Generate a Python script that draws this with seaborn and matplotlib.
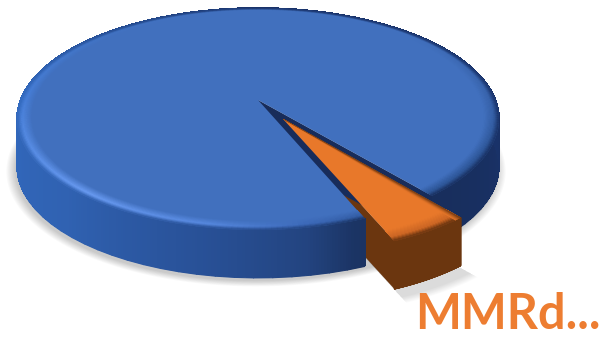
import numpy as np
import matplotlib
matplotlib.use("Agg")
import matplotlib.pyplot as plt
from matplotlib.collections import PolyCollection
from matplotlib.transforms import Transform
import seaborn as sns

# Slice data
slice_names = ["Other", "MMRd"]
slice_values = [95.2, 4.8]
slice_explode = [0, 0.2]
label_text = "MMRd..."

sns.set_theme(style="white")
palette = sns.color_palette(["#4170BE", "#E8782A"])
LABEL_COLOR = "#ED7D31"

# Camera for the tilted disc, in pixel units
CX, CY = 258.0, 100.0
AX_X, AX_Y = 237.4, 107.7
PERSP = 0.171
DEPTH = 48.0


def project(u, v, z=0.0):
    u, v = np.asarray(u, float), np.asarray(v, float)
    w = 1 + PERSP * v
    return CX + AX_X * u / w, CY - AX_Y * v / w + z


class DiscTransform(Transform):
    input_dims = output_dims = 2
    is_separable = False
    has_inverse = False

    def transform_non_affine(self, values):
        x, y = project(values[:, 0], values[:, 1])
        return np.column_stack([x, y])


def shade(table, angles):
    a = ((np.asarray(angles) + 180) % 360) - 180
    keys = np.array(sorted(table))
    rgb = np.array([table[k] for k in keys], float) / 255
    return np.column_stack([np.interp(a, keys, rgb[:, i]) for i in range(3)])


SIDE_BLUE = {-180: (50, 105, 190), -135: (48, 98, 178), -100: (40, 80, 150),
             -80: (35, 68, 128), -70: (27, 52, 100), -50: (24, 46, 92),
             0: (25, 50, 105), 90: (25, 50, 105), 180: (50, 105, 190)}
GLOW_BLUE = {-180: (72, 128, 218), -130: (108, 158, 245), -100: (88, 138, 225),
             -80: (60, 105, 185), -60: (45, 85, 150), -30: (45, 85, 150),
             0: (55, 98, 170), 45: (65, 112, 190), 90: (65, 112, 190),
             135: (65, 115, 195), 180: (72, 128, 218)}


def rim_quads(wedge, z0, z1, table=None, color=None, n=600, smooth_edge=False):
    """Outer wall of a wedge as a strip of quads."""
    t = np.linspace(wedge.theta1, wedge.theta2, n)
    cx, cy = wedge.center
    x, y = cx + wedge.r * np.cos(np.radians(t)), cy + wedge.r * np.sin(np.radians(t))
    xa, ya = project(x, y, z0)
    xb, yb = project(x, y, z1)
    polys = [[(xa[i], ya[i]), (xa[i + 1], ya[i + 1]), (xb[i + 1], yb[i + 1]), (xb[i], yb[i])]
             for i in range(n - 1)]
    tm = (t[:-1] + t[1:]) / 2
    cols = shade(table, tm) if table else np.tile(color, (n - 1, 1))
    if smooth_edge:
        return PolyCollection(polys, facecolors=cols, edgecolors=cols, linewidths=0.8)
    return PolyCollection(polys, facecolors=cols, edgecolors=cols, linewidths=0.6,
                          antialiaseds=False)


def bevel_quads(wedge, top, glow_at, outer_at, width=0.05, rings=12, n=300):
    """Rounded edge of the top face: top colour, highlight, then wall colour."""
    t = np.linspace(wedge.theta1, wedge.theta2, n)
    tm = (t[:-1] + t[1:]) / 2
    glow, outer = glow_at(tm), outer_at(tm)
    cx, cy = wedge.center
    polys, cols = [], []
    fr = np.linspace(0, 1, rings + 1)
    for j in range(rings):
        r0, r1 = wedge.r * (1 - width * (1 - fr[j])), wedge.r * (1 - width * (1 - fr[j + 1]))
        f = (fr[j] + fr[j + 1]) / 2
        xa, ya = project(cx + r0 * np.cos(np.radians(t)), cy + r0 * np.sin(np.radians(t)))
        xb, yb = project(cx + r1 * np.cos(np.radians(t)), cy + r1 * np.sin(np.radians(t)))
        if f < 0.65:
            c = np.array(top) + (glow - np.array(top)) * (f / 0.65)
        else:
            c = glow + (outer - glow) * ((f - 0.65) / 0.35)
        for i in range(n - 1):
            polys.append([(xa[i], ya[i]), (xa[i + 1], ya[i + 1]), (xb[i + 1], yb[i + 1]), (xb[i], yb[i])])
            cols.append(c[i])
    return PolyCollection(polys, facecolors=cols, edgecolors=cols, linewidths=0.3)


def edge_bevel(wedge, angle, side, top, dark, width=0.028, rings=8):
    """Darkening strip along one straight edge of a wedge."""
    cx, cy = wedge.center
    d = np.array([np.cos(np.radians(angle)), np.sin(np.radians(angle))])
    nrm = np.array([-d[1], d[0]]) * side
    top, dark = np.array(top), np.array(dark)
    for j in range(rings):
        o0, o1 = width * (1 - j / rings), width * (1 - (j + 1) / rings)
        f = (j + 0.5) / rings
        # The strip tapers to nothing at the tip of the slice
        tip = np.array([cx, cy])
        end = tip + d * wedge.r
        pts = np.array([tip, end + nrm * o0, end + nrm * o1])
        x, y = project(pts[:, 0], pts[:, 1])
        c = tuple(top + (dark - top) * f ** 1.5)
        ax.fill(x, y, color=c, lw=0.2, zorder=12)


def radial_wall(wedge, angle, color, zorder):
    cx, cy = wedge.center
    ex, ey = cx + wedge.r * np.cos(np.radians(angle)), cy + wedge.r * np.sin(np.radians(angle))
    xa, ya = project([cx, ex], [cy, ey])
    xb, yb = project([ex, cx], [ey, cy], DEPTH)
    ax.fill(np.r_[xa, xb], np.r_[ya, yb], color=color, lw=0, zorder=zorder)


fig = plt.figure(figsize=(6.03, 3.38), dpi=100)
ax = fig.add_axes([0, 0, 1, 1])
wedges, _ = ax.pie(slice_values, explode=slice_explode, startangle=-50.5,
                   colors=palette, frame=False)
ax.set_aspect("auto")
ax.set_xlim(0, 603)
ax.set_ylim(338, 0)
ax.axis("off")
blue, orange = wedges
orange.set_radius(0.97)

disc = DiscTransform() + ax.transData
blue.set_transform(disc)
orange.set_transform(disc)
blue.set_zorder(5)
orange.set_zorder(10)
blue.set_linewidth(0)
orange.set_linewidth(0)

# Soft ground shadow under both pieces
t_all = np.linspace(0, 2 * np.pi, 240)
for scale in np.linspace(1.035, 1.0, 9):
    sx, sy = project(scale * np.cos(t_all), scale * np.sin(t_all), DEPTH + 3)
    ax.fill(sx - 2, sy, color="black", alpha=0.022, lw=0, zorder=1)
    t_o = np.radians(np.linspace(orange.theta1, orange.theta2, 30))
    ox = np.r_[orange.center[0], orange.center[0] + scale * np.cos(t_o)]
    oy = np.r_[orange.center[1], orange.center[1] + scale * np.sin(t_o)]
    px, py = project(ox, oy, DEPTH + 4)
    ax.fill(px + 3, py, color="black", alpha=0.016, lw=0, zorder=1)

# Orange cut face sits behind the blue body
ORANGE_WALL = (0.42, 0.21, 0.06)
radial_wall(orange, orange.theta1, ORANGE_WALL, 2)

# Blue body: a smooth-edged underlay, then a fine gradient without seams
ax.add_collection(rim_quads(blue, 0, DEPTH, table=SIDE_BLUE, n=90, smooth_edge=True),
                  autolim=False).set_zorder(3)
ax.add_collection(rim_quads(blue, 0, DEPTH - 1.2, table=SIDE_BLUE), autolim=False).set_zorder(3.5)
radial_wall(blue, blue.theta1, (24 / 255, 44 / 255, 90 / 255), 4)
top_blue = palette[0]
ax.add_collection(bevel_quads(blue, top_blue, lambda a: shade(GLOW_BLUE, a),
                              lambda a: shade(SIDE_BLUE, a), width=0.06), autolim=False).set_zorder(6)

# Orange front, drawn over the blue body
ax.add_collection(rim_quads(orange, 0, DEPTH, color=ORANGE_WALL, smooth_edge=True),
                  autolim=False).set_zorder(9)
top_orange = palette[1]
ax.add_collection(bevel_quads(orange, top_orange,
                              lambda a: np.tile((0.80, 0.40, 0.14), (len(a), 1)),
                              lambda a: np.tile(ORANGE_WALL, (len(a), 1)),
                              width=0.07), autolim=False).set_zorder(11)
edge_bevel(orange, orange.theta2, -1, top_orange, ORANGE_WALL)

ax.text(415, 329, label_text, color=LABEL_COLOR, fontsize=35, fontweight="bold",
        family=["Lato", "DejaVu Sans"], ha="left", va="baseline", zorder=13)

fig.savefig("out.png", dpi=100)
